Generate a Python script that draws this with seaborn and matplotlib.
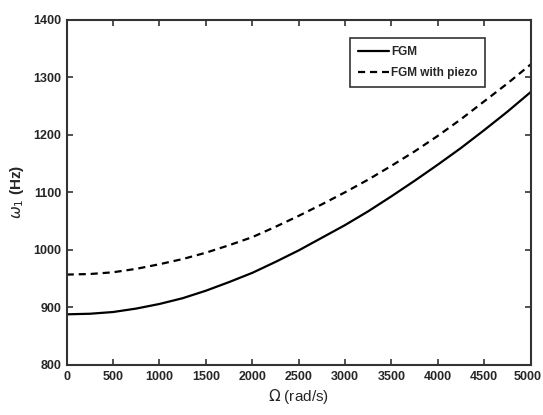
import pandas as pd
import matplotlib
matplotlib.use('Agg')
import matplotlib.pyplot as plt
from matplotlib.transforms import ScaledTranslation
import seaborn as sns

# values
omega = [0, 250, 500, 750, 1000, 1250, 1500, 1750, 2000, 2250, 2500,
         2750, 3000, 3250, 3500, 3750, 4000, 4250, 4500, 4750, 5000]
fgm = [888, 889, 892, 898, 906, 916, 929, 944, 960, 979, 999,
       1021, 1043, 1067, 1093, 1120, 1148, 1177, 1208, 1240, 1274]
fgm_piezo = [957, 958, 961, 967, 975, 984, 995, 1008, 1022, 1040, 1059,
             1079, 1100, 1122, 1146, 1171, 1198, 1227, 1258, 1289, 1322]
series_names = ['FGM', 'FGM with piezo']

df = pd.DataFrame({
    'omega': omega * 2,
    'freq': fgm + fgm_piezo,
    'case': [series_names[0]] * len(omega) + [series_names[1]] * len(omega),
})

sns.set_style('ticks')
plt.rcParams['font.family'] = ['Liberation Sans', 'DejaVu Sans']
plt.rcParams['mathtext.fontset'] = 'dejavusans'

fig = plt.figure(figsize=(5.43, 4.15), dpi=100)
ax = fig.add_axes([0.1228, 0.1205, 0.8545, 0.8325])

sns.lineplot(data=df, x='omega', y='freq', hue='case', style='case',
             palette=['black', 'black'],
             dashes={series_names[0]: '', series_names[1]: (3.2, 2.2)},
             linewidth=1.6, ax=ax)

ax.set_xlim(0, 5000)
ax.set_ylim(800, 1400)
ax.set_xticks(range(0, 5001, 500))
ax.set_yticks(range(800, 1401, 100))
ax.tick_params(direction='in', top=True, right=True, length=4, width=1.2,
               color='#333333', labelsize=9, pad=4)
for lab in ax.get_xticklabels() + ax.get_yticklabels():
    lab.set_fontweight('bold')
# keep the last x label inside the figure
last = ax.get_xticklabels()[-1]
last.set_transform(last.get_transform() + ScaledTranslation(-3 / 100, 0, fig.dpi_scale_trans))
for sp in ax.spines.values():
    sp.set_linewidth(1.5)
    sp.set_color('#333333')

ax.set_xlabel(r'$\Omega$ (rad/s)', fontsize=11, labelpad=3)
ax.set_ylabel(r'$\omega_1$ (Hz)', fontsize=11, fontweight='bold', labelpad=5)

leg = ax.legend(loc='upper left', bbox_to_anchor=(0.611, 0.946),
                borderaxespad=0, frameon=True, fancybox=False,
                prop={'weight': 'bold', 'size': 8.5},
                handlelength=2.6, handletextpad=0.2, borderpad=0.65,
                labelspacing=0.8)
leg.get_frame().set_edgecolor('black')
leg.get_frame().set_linewidth(1.2)

plt.savefig('out.png', dpi=100)
